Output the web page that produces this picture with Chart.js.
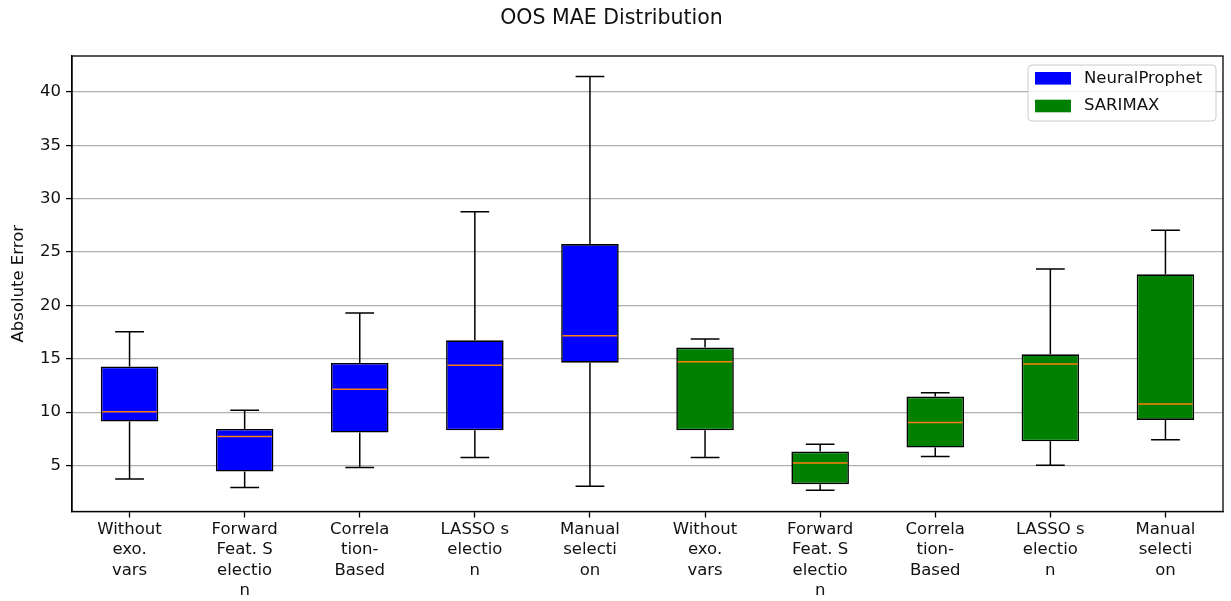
<!DOCTYPE html>
<html><head><meta charset="utf-8">
<script src="https://cdn.jsdelivr.net/npm/chart.js@4/dist/chart.umd.min.js"></script>
<style>html,body{margin:0;padding:0;background:#fff;}#wrap{width:1231px;height:601px;}</style>
</head><body><div id="wrap"><canvas id="c" width="1231" height="601"></canvas></div>
<script>
const categories = [
  ["Without","exo.","vars"], ["Forward","Feat. S","electio","n"], ["Correla","tion-","Based"], ["LASSO s","electio","n"], ["Manual","selecti","on"],
  ["Without","exo.","vars"], ["Forward","Feat. S","electio","n"], ["Correla","tion-","Based"], ["LASSO s","electio","n"], ["Manual","selecti","on"]
];
const seriesNames = ["NeuralProphet", "SARIMAX"];
const seriesColors = ["#0000ff", "#008000"];
// NeuralProphet (categories 1-5)
const npMin    = [3.75, 2.94, 4.81, 5.75, 3.07];
const npQ1     = [9.12, 4.44, 8.09, 8.31, 14.64];
const npMedian = [10.05, 7.72, 12.15, 14.39, 17.17];
const npQ3     = [14.27, 8.43, 14.61, 16.73, 25.75];
const npMax    = [17.54, 10.18, 19.29, 28.77, 41.44];
// SARIMAX (categories 6-10)
const sxMin    = [5.75, 2.70, 5.84, 5.04, 7.41];
const sxQ1     = [8.31, 3.26, 6.69, 7.28, 9.28];
const sxMedian = [14.73, 5.25, 9.03, 14.52, 10.77];
const sxQ3     = [16.05, 6.31, 11.46, 15.42, 22.91];
const sxMax    = [16.86, 7.00, 11.83, 23.41, 27.03];
const yTicks = [5, 10, 15, 20, 25, 30, 35, 40];
const yMin = 0.70, yMax = 43.36;

const groups = [
  {offset: 0, min: npMin, q1: npQ1, med: npMedian, q3: npQ3, max: npMax},
  {offset: 5, min: sxMin, q1: sxQ1, med: sxMedian, q3: sxQ3, max: sxMax}
];
const FONT = '"DejaVu Sans", sans-serif';
const TXT = '#111';

function boxData(g) {
  return categories.map((_, i) => {
    const k = i - g.offset;
    return (k >= 0 && k < g.q1.length) ? [g.q1[k], g.q3[k]] : null;
  });
}

const boxParts = {
  id: 'boxParts',
  afterDatasetsDraw(chart) {
    const {ctx, scales: {x, y}} = chart;
    ctx.save();
    groups.forEach((g, di) => {
      const meta = chart.getDatasetMeta(di);
      g.q1.forEach((_, k) => {
        const idx = g.offset + k;
        const el = meta.data[idx];
        const cx = x.getPixelForValue(idx);
        const w = el.width;
        const capW = w / 2;
        ctx.lineWidth = 1.5;
        ctx.strokeStyle = '#000';
        ctx.beginPath();
        ctx.moveTo(cx, y.getPixelForValue(g.q3[k])); ctx.lineTo(cx, y.getPixelForValue(g.max[k]));
        ctx.moveTo(cx, y.getPixelForValue(g.q1[k])); ctx.lineTo(cx, y.getPixelForValue(g.min[k]));
        ctx.moveTo(cx - capW / 2, y.getPixelForValue(g.max[k])); ctx.lineTo(cx + capW / 2, y.getPixelForValue(g.max[k]));
        ctx.moveTo(cx - capW / 2, y.getPixelForValue(g.min[k])); ctx.lineTo(cx + capW / 2, y.getPixelForValue(g.min[k]));
        ctx.stroke();
        ctx.strokeStyle = '#ff7f0e';
        ctx.lineWidth = 1.5;
        ctx.beginPath();
        ctx.moveTo(cx - w / 2 + 1.5, y.getPixelForValue(g.med[k])); ctx.lineTo(cx + w / 2 - 1.5, y.getPixelForValue(g.med[k]));
        ctx.stroke();
      });
    });
    ctx.restore();
  },
  afterDraw(chart) {
    const {ctx, chartArea: a} = chart;
    ctx.save();
    // frame
    ctx.strokeStyle = '#000';
    ctx.lineWidth = 1.3;
    ctx.strokeRect(a.left, a.top, a.right - a.left, a.bottom - a.top);
    // legend
    const fs = 16.5;
    ctx.font = fs + 'px ' + FONT;
    const textW = Math.max(...seriesNames.map(n => ctx.measureText(n).width));
    const patchW = 36, padL = 7, gap = 13, padR = 10;
    const boxW = Math.max(188, padL + patchW + gap + textW + padR);
    const boxH = 56, rowH = 27.7;
    const bx = a.right - 7 - boxW, by = a.top + 9;
    ctx.beginPath();
    if (ctx.roundRect) ctx.roundRect(bx, by, boxW, boxH, 4); else ctx.rect(bx, by, boxW, boxH);
    ctx.fillStyle = 'rgba(255,255,255,0.8)';
    ctx.fill();
    ctx.strokeStyle = '#cccccc';
    ctx.lineWidth = 1;
    ctx.stroke();
    seriesNames.forEach((n, i) => {
      const cy = by + 13.3 + i * rowH;
      ctx.fillStyle = seriesColors[i];
      ctx.fillRect(bx + padL, cy - 6.3, patchW, 12.6);
      ctx.fillStyle = TXT;
      ctx.textBaseline = 'middle';
      ctx.textAlign = 'left';
      ctx.fillText(n, bx + padL + patchW + gap, cy);
    });
    ctx.restore();
  }
};

new Chart(document.getElementById('c'), {
  type: 'bar',
  data: {
    labels: categories,
    datasets: groups.map((g, i) => ({
      label: seriesNames[i],
      data: boxData(g),
      backgroundColor: seriesColors[i],
      borderColor: '#000',
      borderWidth: 1.6,
      borderSkipped: false,
      grouped: false,
      barPercentage: 0.5,
      categoryPercentage: 1.0
    }))
  },
  options: {
    responsive: false,
    animation: false,
    layout: {padding: {left: 0, right: 8, top: 0, bottom: 0}},
    plugins: {
      legend: {display: false},
      tooltip: {enabled: false},
      title: {
        display: true,
        text: 'OOS MAE Distribution',
        color: TXT,
        font: {family: FONT, size: 20.5, weight: 'normal', lineHeight: 1.2},
        padding: {top: 6, bottom: 25.4}
      }
    },
    scales: {
      x: {
        type: 'category',
        offset: true,
        grid: {display: true, drawOnChartArea: false, offset: false, drawTicks: true, tickLength: 6, tickColor: '#000', tickWidth: 1.3, color: 'rgba(0,0,0,0)'},
        border: {display: true, color: '#000', width: 1.3},
        ticks: {color: TXT, font: {family: FONT, size: 16.5, lineHeight: 1.25}, padding: 1.5, maxRotation: 0, minRotation: 0, autoSkip: false},
        afterFit(s) { s.height = 89.5; }
      },
      y: {
        type: 'linear',
        min: yMin, max: yMax,
        afterBuildTicks(s) { s.ticks = yTicks.map(v => ({value: v})); },
        grid: {color: '#b0b0b0', lineWidth: 1.2, drawTicks: true, tickLength: 6, tickColor: '#000', tickWidth: 1.3},
        border: {display: true, color: '#000', width: 1.3},
        ticks: {color: TXT, font: {family: FONT, size: 16.5}, padding: 5, callback: v => String(v)},
        title: {display: true, text: 'Absolute Error', color: TXT, font: {family: FONT, size: 16.5, lineHeight: 1.2}, padding: {top: 9, bottom: 0}},
        afterFit(s) { s.width = 72; }
      }
    }
  },
  plugins: [boxParts]
});
</script>
</body></html>
